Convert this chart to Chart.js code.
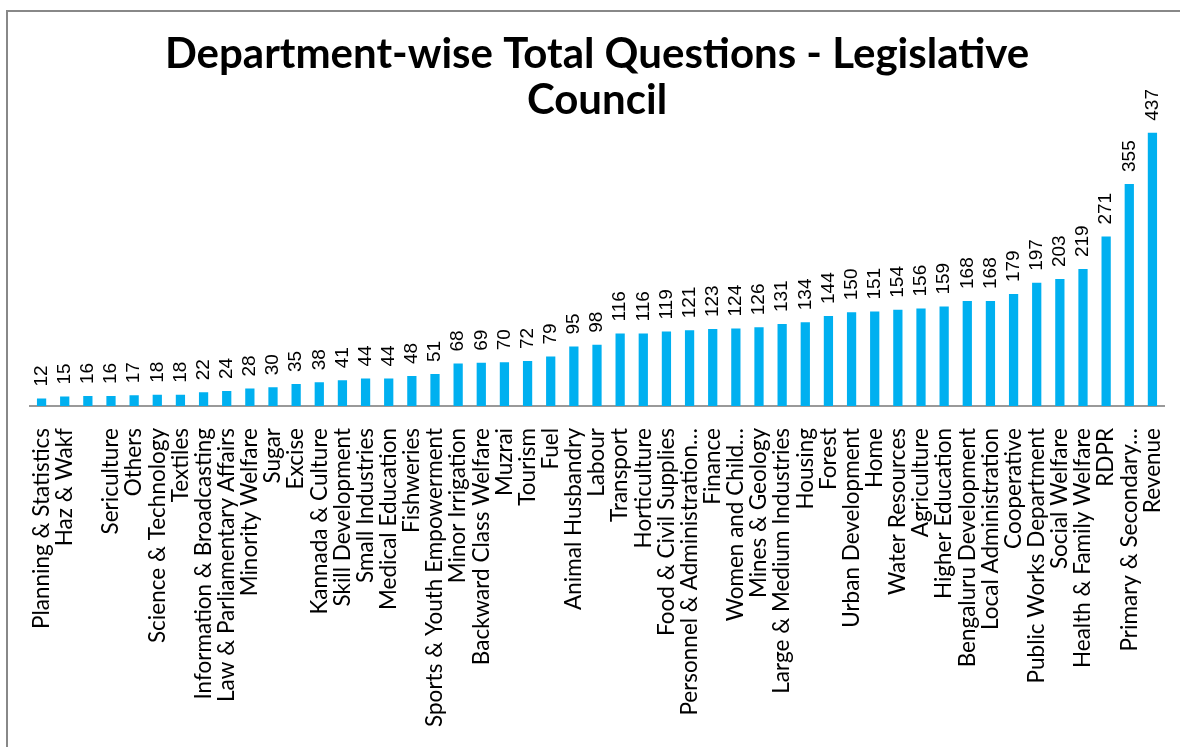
<!DOCTYPE html>
<html>
<head>
<meta charset="utf-8">
<script src="https://cdn.jsdelivr.net/npm/chart.js@4/dist/chart.umd.min.js"></script>
<style>
  html, body { margin: 0; padding: 0; background: #fff; }
  #wrap { position: relative; width: 1180px; height: 747px; overflow: hidden; }
  #frame {
    position: absolute; left: 6px; top: 10px; width: 1200px; height: 800px;
    border-left: 2px solid #888; border-top: 2px solid #888;
  }
  canvas { position: absolute; left: 0; top: 0; }
</style>
</head>
<body>
<div id="wrap">
  <div id="frame"></div>
  <canvas id="chart" width="1180" height="747"></canvas>
</div>
<script>
const departments = [
  "Planning & Statistics", "Haz & Wakf", "", "Sericulture", "Others",
  "Science & Technology", "Textiles", "Information & Broadcasting",
  "Law & Parliamentary Affairs", "Minority Welfare", "Sugar", "Excise",
  "Kannada & Culture", "Skill Development", "Small Industries",
  "Medical Education", "Fishweries", "Sports & Youth Empowerment",
  "Minor Irrigation", "Backward Class Welfare", "Muzrai", "Tourism", "Fuel",
  "Animal Husbandry", "Labour", "Transport", "Horticulture",
  "Food & Civil Supplies", "Personnel & Administration…", "Finance",
  "Women and Child…", "Mines & Geology", "Large & Medium Industries",
  "Housing", "Forest", "Urban Development", "Home", "Water Resources",
  "Agriculture", "Higher Education", "Bengaluru Development",
  "Local Administration", "Cooperative", "Public Works Department",
  "Social Welfare", "Health & Family Welfare", "RDPR",
  "Primary & Secondary…", "Revenue"
]

const totalQuestions = [
  12, 15, 16, 16, 17, 18, 18, 22, 24, 28, 30, 35, 38, 41, 44, 44, 48, 51,
  68, 69, 70, 72, 79, 95, 98, 116, 116, 119, 121, 123, 124, 126, 131, 134,
  144, 150, 151, 154, 156, 159, 168, 168, 179, 197, 203, 219, 271, 355, 437
]

const titleLines = ["Department-wise Total Questions - Legislative", "Council"]

// draws the rotated value label above each bar
const valueLabels = {
  id: "valueLabels",
  afterDatasetsDraw(chart) {
    const { ctx } = chart
    const meta = chart.getDatasetMeta(0)
    ctx.save()
    ctx.fillStyle = "#000"
    ctx.font = "19px 'Liberation Sans', Arial, sans-serif"
    ctx.textAlign = "left"
    ctx.textBaseline = "middle"
    meta.data.forEach((bar, i) => {
      ctx.save()
      ctx.translate(bar.x, bar.y - 12)
      ctx.rotate(-Math.PI / 2)
      ctx.fillText(String(totalQuestions[i]), 0, 0)
      ctx.restore()
    })
    ctx.restore()
  }
}

new Chart(document.getElementById("chart"), {
  type: "bar",
  data: {
    labels: departments,
    datasets: [{
      data: totalQuestions,
      backgroundColor: "#00B0F0",
      borderWidth: 0,
      barPercentage: 0.8,
      categoryPercentage: 0.5
    }]
  },
  options: {
    responsive: false,
    animation: false,
    layout: {
      padding: { left: 30, right: 16, top: 0, bottom: 0 }
    },
    plugins: {
      legend: { display: false },
      tooltip: { enabled: false },
      title: {
        display: true,
        text: titleLines,
        color: "#000",
        font: { family: "Lato, sans-serif", size: 42, weight: "bold", lineHeight: 1.08 },
        padding: { top: 32, bottom: 0 }
      }
    },
    scales: {
      x: {
        grid: { drawOnChartArea: false, drawTicks: false },
        border: { display: true, color: "#999", width: 2 },
        ticks: {
          autoSkip: false,
          minRotation: 90,
          maxRotation: 90,
          padding: 22,
          color: "#000",
          font: { family: "Lato, sans-serif", size: 22.5 }
        },
        afterFit(scale) {
          scale.height = 341
          scale.paddingLeft = 0
          scale.paddingRight = 0
        }
      },
      y: {
        display: false,
        min: 0,
        max: 453
      }
    }
  },
  plugins: [valueLabels]
})
</script>
</body>
</html>
